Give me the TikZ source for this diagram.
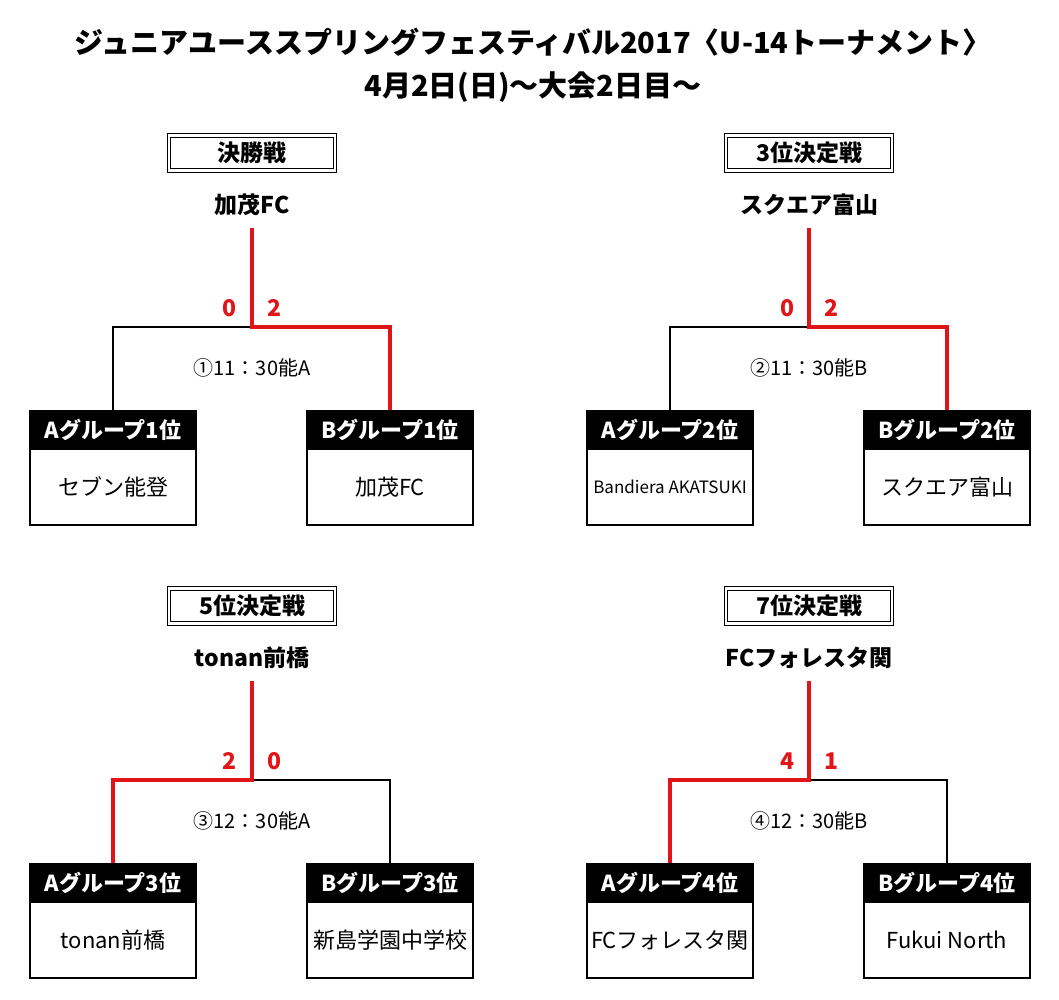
\documentclass[tikz,border=0pt]{standalone}
\usepackage{fontspec}
\setmainfont{Noto Sans CJK JP}
\usetikzlibrary{positioning}
\definecolor{scorered}{RGB}{225,20,25}

\begin{document}
\begin{tikzpicture}[x=1pt,y=1pt,node distance=20pt,on grid,inner sep=0pt]
			\tikzset{heading/.style={font=\fontsize{29}{34}\selectfont\bfseries}}
			\tikzset{titlebox/.style={draw,double,line width=1.1pt,double distance=2.2pt,minimum width=166pt,minimum height=35pt,font=\fontsize{23}{27}\selectfont\bfseries}}
			\tikzset{winner/.style={font=\fontsize{23}{27}\selectfont\bfseries}}
			\tikzset{score/.style={text=scorered,font=\fontsize{23}{27}\selectfont\bfseries}}
			\tikzset{slot/.style={font=\fontsize{20}{24}\selectfont}}
			\tikzset{grouphead/.style={fill=black,text=white,draw=black,line width=2pt,minimum width=166pt,minimum height=38pt,font=\fontsize{22}{26}\selectfont\bfseries}}
			\tikzset{team/.style={draw=black,line width=2pt,minimum width=166pt,minimum height=76pt,font=\fontsize{22}{26}\selectfont}}
			\tikzset{lose/.style={draw=black,line width=2pt}}
			\tikzset{win/.style={draw=scorered,line width=3.5pt}}
			\useasboundingbox (0,0) rectangle (1059,-1000);
			% Heading
			\node[heading] (H1) at (533,-42) {ジュニアユーススプリングフェスティバル2017〈U-14トーナメント〉};
			\node[heading] (H2) [below=45pt of H1] {4月2日(日)〜大会2日目〜};
			% Final
			\node[titlebox] (T1) at (252,-153) {決勝戦};
			\node[winner] (W1) [below=52pt of T1] {加茂FC};
			\coordinate[below=23pt of W1] (E1);
			\coordinate[below=122pt of W1] (J1);
			\coordinate[left=139pt of J1] (L1);
			\coordinate[right=138pt of J1] (R1);
			\node[grouphead] (HA1) [below=103pt of L1,anchor=center] {Aグループ1位};
			\node[team] (NA1) [below=57pt of HA1] {セブン能登};
			\node[grouphead] (HB1) [below=103pt of R1,anchor=center] {Bグループ1位};
			\node[team] (NB1) [below=57pt of HB1] {加茂FC};
			\node[slot] (M1) [below=41pt of J1,anchor=center] {①11：30能A};
			\node[score] (SA1) [above left=19pt and 22pt of J1,anchor=center] {0};
			\node[score] (SB1) [above right=19pt and 22pt of J1,anchor=center] {2};
			\draw[lose] (J1) -- (L1) -- (HA1.north);
			\draw[win] (E1) -- (J1) -- (R1) -- (HB1.north);
			% 3rd place
			\node[titlebox] (T3) at (809,-153) {3位決定戦};
			\node[winner] (W3) [below=52pt of T3] {スクエア富山};
			\coordinate[below=23pt of W3] (E3);
			\coordinate[below=122pt of W3] (J3);
			\coordinate[left=139pt of J3] (L3);
			\coordinate[right=138pt of J3] (R3);
			\node[grouphead] (HA3) [below=103pt of L3,anchor=center] {Aグループ2位};
			\node[team,font=\fontsize{17}{20}\selectfont] (NA3) [below=57pt of HA3] {Bandiera AKATSUKI};
			\node[grouphead] (HB3) [below=103pt of R3,anchor=center] {Bグループ2位};
			\node[team] (NB3) [below=57pt of HB3] {スクエア富山};
			\node[slot] (M3) [below=41pt of J3,anchor=center] {②11：30能B};
			\node[score] (SA3) [above left=19pt and 22pt of J3,anchor=center] {0};
			\node[score] (SB3) [above right=19pt and 22pt of J3,anchor=center] {2};
			\draw[lose] (J3) -- (L3) -- (HA3.north);
			\draw[win] (E3) -- (J3) -- (R3) -- (HB3.north);
			% 5th place
			\node[titlebox] (T5) at (252,-606) {5位決定戦};
			\node[winner] (W5) [below=52pt of T5] {tonan前橋};
			\coordinate[below=23pt of W5] (E5);
			\coordinate[below=122pt of W5] (J5);
			\coordinate[left=139pt of J5] (L5);
			\coordinate[right=138pt of J5] (R5);
			\node[grouphead] (HA5) [below=103pt of L5,anchor=center] {Aグループ3位};
			\node[team] (NA5) [below=57pt of HA5] {tonan前橋};
			\node[grouphead] (HB5) [below=103pt of R5,anchor=center] {Bグループ3位};
			\node[team] (NB5) [below=57pt of HB5] {新島学園中学校};
			\node[slot] (M5) [below=41pt of J5,anchor=center] {③12：30能A};
			\node[score] (SA5) [above left=19pt and 22pt of J5,anchor=center] {2};
			\node[score] (SB5) [above right=19pt and 22pt of J5,anchor=center] {0};
			\draw[lose] (J5) -- (R5) -- (HB5.north);
			\draw[win] (E5) -- (J5) -- (L5) -- (HA5.north);
			% 7th place
			\node[titlebox] (T7) at (809,-606) {7位決定戦};
			\node[winner] (W7) [below=52pt of T7] {FCフォレスタ関};
			\coordinate[below=23pt of W7] (E7);
			\coordinate[below=122pt of W7] (J7);
			\coordinate[left=139pt of J7] (L7);
			\coordinate[right=138pt of J7] (R7);
			\node[grouphead] (HA7) [below=103pt of L7,anchor=center] {Aグループ4位};
			\node[team] (NA7) [below=57pt of HA7] {FCフォレスタ関};
			\node[grouphead] (HB7) [below=103pt of R7,anchor=center] {Bグループ4位};
			\node[team] (NB7) [below=57pt of HB7] {Fukui North};
			\node[slot] (M7) [below=41pt of J7,anchor=center] {④12：30能B};
			\node[score] (SA7) [above left=19pt and 22pt of J7,anchor=center] {4};
			\node[score] (SB7) [above right=19pt and 22pt of J7,anchor=center] {1};
			\draw[lose] (J7) -- (R7) -- (HB7.north);
			\draw[win] (E7) -- (J7) -- (L7) -- (HA7.north);
\end{tikzpicture}
\end{document}
